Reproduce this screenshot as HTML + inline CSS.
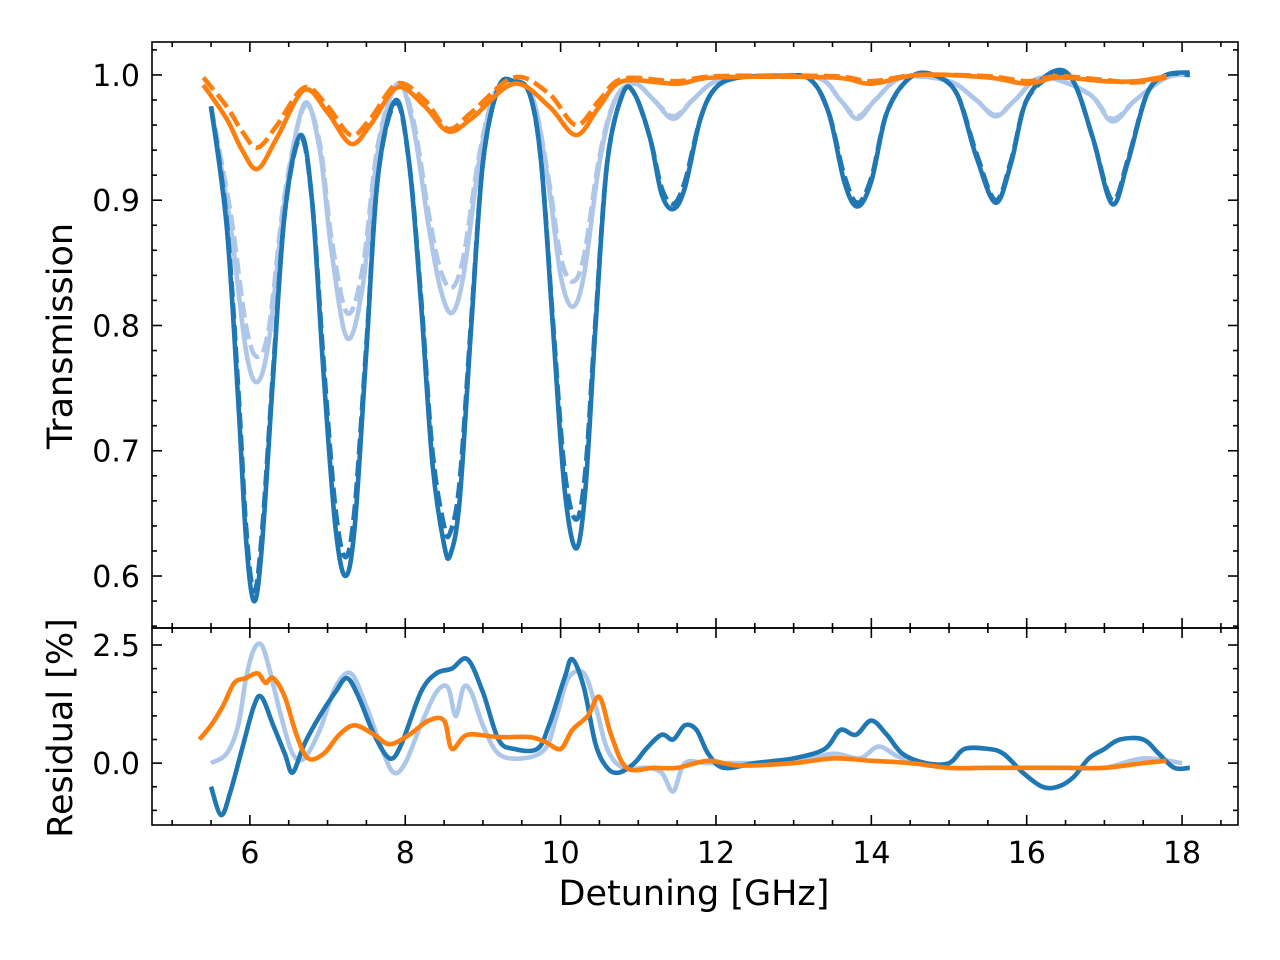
<!DOCTYPE html>
<html><head><meta charset="utf-8">
<style>
body{margin:0;background:#fff;}
svg{display:block;font-family:"DejaVu Sans","Liberation Sans",sans-serif;}
</style></head>
<body>
<svg id="chart" width="1280" height="960" viewBox="0 0 1280 960">
<defs><clipPath id="cT"><rect x="152" y="42" width="1086" height="586"/></clipPath></defs>
<g id="plotTop"></g>
<g id="plotBot"></g>
<g id="axes"></g>
</svg>
<script>
// ---- data ----
const darkX = [5.5,5.7,5.85,5.95,6.05,6.15,6.3,6.45,6.65,6.8,6.95,7.1,7.23,7.35,7.5,7.65,7.88,8.05,8.2,8.35,8.5,8.58,8.7,8.85,9.0,9.2,9.4,9.6,9.75,9.9,10.05,10.2,10.32,10.45,10.6,10.8,10.95,11.15,11.3,11.45,11.6,11.8,12.0,12.3,12.8,13.2,13.45,13.65,13.82,14.0,14.2,14.5,14.8,15.1,15.35,15.6,15.8,16.0,16.35,16.6,16.85,17.1,17.3,17.55,17.8,18.1];
const darkSolid = [0.975,0.88,0.74,0.63,0.58,0.62,0.76,0.89,0.952,0.90,0.76,0.64,0.60,0.64,0.78,0.92,0.98,0.93,0.82,0.69,0.625,0.617,0.66,0.80,0.93,0.99,0.995,0.985,0.93,0.80,0.67,0.622,0.67,0.80,0.93,0.985,0.985,0.95,0.905,0.893,0.91,0.965,0.99,0.998,0.999,0.997,0.97,0.915,0.895,0.915,0.97,0.998,1.0,0.985,0.935,0.898,0.93,0.98,1.003,0.995,0.95,0.897,0.93,0.985,1.0,1.002];
const darkDashed = [0.975,0.885,0.75,0.64,0.588,0.63,0.765,0.89,0.95,0.90,0.77,0.655,0.615,0.655,0.785,0.92,0.978,0.93,0.825,0.70,0.64,0.635,0.675,0.805,0.93,0.99,0.995,0.985,0.93,0.805,0.685,0.645,0.685,0.805,0.93,0.985,0.985,0.95,0.91,0.897,0.915,0.965,0.99,0.998,0.999,0.997,0.97,0.92,0.898,0.918,0.97,0.998,1.0,0.985,0.938,0.9,0.932,0.98,1.0,0.995,0.95,0.9,0.932,0.985,1.0,1.0];
const lightX = [5.5,5.75,5.95,6.1,6.25,6.45,6.7,6.9,7.05,7.25,7.45,7.65,7.9,8.1,8.3,8.45,8.6,8.75,8.95,9.15,9.4,9.65,9.85,10.0,10.15,10.3,10.5,10.7,10.95,11.2,11.45,11.7,12.0,12.5,13.3,13.6,13.82,14.05,14.4,15.0,15.35,15.6,15.85,16.2,16.8,17.1,17.4,17.8,18.1];
const lightSolid = [0.975,0.88,0.78,0.755,0.79,0.90,0.977,0.94,0.86,0.79,0.83,0.94,0.993,0.96,0.88,0.83,0.81,0.84,0.93,0.985,0.995,0.98,0.91,0.84,0.815,0.84,0.93,0.98,0.993,0.98,0.965,0.98,0.995,0.999,0.998,0.98,0.965,0.98,0.998,0.995,0.98,0.967,0.98,0.998,0.985,0.963,0.98,0.998,1.0];
const lightDashed = [0.975,0.89,0.80,0.775,0.80,0.905,0.975,0.945,0.87,0.81,0.845,0.945,0.993,0.965,0.89,0.845,0.83,0.855,0.935,0.985,0.995,0.98,0.915,0.855,0.835,0.855,0.935,0.98,0.993,0.98,0.967,0.98,0.995,0.999,0.998,0.98,0.967,0.98,0.998,0.995,0.98,0.968,0.98,0.998,0.985,0.965,0.98,0.998,1.0];
const orX = [5.4,5.7,5.9,6.1,6.35,6.7,7.0,7.3,7.55,7.9,8.25,8.55,8.85,9.4,9.85,10.2,10.5,10.8,11.5,12.0,13.5,14.0,14.6,15.5,16.0,16.4,17.0,17.4,17.8];
const orSolid = [0.992,0.965,0.94,0.925,0.95,0.988,0.97,0.945,0.96,0.99,0.975,0.955,0.965,0.993,0.975,0.952,0.975,0.995,0.993,0.998,0.998,0.993,1.0,0.998,0.993,0.998,0.995,0.995,0.999];
const orDashed = [0.998,0.975,0.955,0.942,0.96,0.99,0.975,0.952,0.965,0.993,0.98,0.957,0.97,0.998,0.985,0.96,0.98,0.997,0.995,0.999,0.999,0.995,1.0,0.999,0.995,0.999,0.996,0.994,0.998];
const resDarkX = [5.5,5.63,5.75,5.9,6.05,6.15,6.3,6.45,6.55,6.7,6.9,7.1,7.25,7.4,7.6,7.8,7.95,8.2,8.4,8.6,8.8,9.0,9.2,9.4,9.7,9.85,10.05,10.15,10.3,10.45,10.6,10.75,10.95,11.1,11.3,11.45,11.6,11.75,11.9,12.1,12.5,13.0,13.4,13.6,13.8,14.0,14.2,14.4,14.7,15.0,15.2,15.5,15.7,15.95,16.2,16.4,16.6,16.8,17.0,17.2,17.5,17.7,17.9,18.1];
const resDark = [-0.5,-1.1,-0.6,0.3,1.2,1.4,0.8,0.2,-0.2,0.4,1.0,1.5,1.8,1.4,0.6,0.1,0.4,1.5,1.9,2.0,2.2,1.5,0.5,0.3,0.3,0.8,1.8,2.2,1.6,0.4,-0.1,-0.2,0.0,0.3,0.6,0.5,0.8,0.7,0.2,-0.1,0.0,0.1,0.3,0.7,0.6,0.9,0.6,0.2,0.0,0.0,0.3,0.3,0.2,-0.2,-0.5,-0.5,-0.3,0.1,0.3,0.5,0.5,0.2,-0.1,-0.1];
const resLightX = [5.5,5.7,5.85,5.95,6.05,6.15,6.25,6.4,6.55,6.7,6.9,7.1,7.3,7.5,7.7,7.85,8.0,8.2,8.4,8.55,8.65,8.75,8.85,9.0,9.2,9.5,9.8,9.95,10.1,10.3,10.45,10.6,10.8,11.1,11.3,11.45,11.6,11.9,12.5,13.0,13.5,13.85,14.1,14.4,15.0,15.5,16.0,16.5,17.0,17.5,18.0];
const resLight = [0.0,0.2,0.8,1.8,2.4,2.5,2.0,1.0,0.2,0.1,0.7,1.6,1.9,1.2,0.3,-0.2,0.0,0.8,1.5,1.6,1.0,1.6,1.5,0.8,0.2,0.1,0.3,1.0,1.8,1.9,1.2,0.3,-0.1,-0.1,-0.2,-0.6,0.0,0.0,0.0,0.0,0.2,0.1,0.35,0.1,-0.1,-0.1,-0.1,-0.1,-0.1,0.1,0.0];
const resOrX = [5.35,5.5,5.65,5.8,5.95,6.1,6.2,6.3,6.45,6.6,6.75,6.95,7.15,7.35,7.6,7.8,8.05,8.3,8.5,8.6,8.8,9.2,9.6,9.8,10.0,10.15,10.35,10.5,10.65,10.85,11.2,11.5,11.9,12.3,13.0,13.5,14.0,14.5,15.0,15.5,16.0,16.5,17.0,17.5,17.8];
const resOr = [0.5,0.8,1.2,1.7,1.8,1.9,1.7,1.8,1.4,0.6,0.1,0.2,0.6,0.8,0.6,0.4,0.6,0.9,0.9,0.3,0.6,0.55,0.55,0.45,0.3,0.7,1.0,1.4,0.6,-0.1,-0.1,-0.1,0.05,-0.05,0.0,0.1,0.05,0.0,-0.1,-0.1,-0.1,-0.1,-0.1,0.0,0.05];
const xTicks = [6,8,10,12,14,16,18];
const topTicks = [0.6,0.7,0.8,0.9,1.0];
const botTicks = [0.0,2.5];

// ---- scales ----
const L=152,R=1238,T=42,M=628,B=825;
const xMin=4.74,xMax=18.72;
const sx=v=>L+(v-xMin)/(xMax-xMin)*(R-L);
const syT=v=>T+(1.0263-v)/(1.0263-0.5585)*(M-T);
const syB=v=>M+(2.86-v)/(2.86+1.31)*(B-M);
const NS='http://www.w3.org/2000/svg';
function mk(tag,attrs,parent){const e=document.createElementNS(NS,tag);for(const k in attrs)e.setAttribute(k,attrs[k]);parent.appendChild(e);return e;}
function spline(xs,ys,fx,fy){
  const p=xs.map((x,i)=>[fx(x),fy(ys[i])]);
  let d='M'+p[0][0].toFixed(1)+','+p[0][1].toFixed(1);
  for(let i=0;i<p.length-1;i++){
    const p0=p[Math.max(0,i-1)],p1=p[i],p2=p[i+1],p3=p[Math.min(p.length-1,i+2)];
    const c1=[p1[0]+(p2[0]-p0[0])/6,p1[1]+(p2[1]-p0[1])/6];
    const c2=[p2[0]-(p3[0]-p1[0])/6,p2[1]-(p3[1]-p1[1])/6];
    d+='C'+c1[0].toFixed(1)+','+c1[1].toFixed(1)+' '+c2[0].toFixed(1)+','+c2[1].toFixed(1)+' '+p2[0].toFixed(1)+','+p2[1].toFixed(1);
  }
  return d;
}
const gTop=document.getElementById('plotTop'),gBot=document.getElementById('plotBot'),gAx=document.getElementById('axes');
const series=[
 [darkX,darkSolid,'#1f77b4',null,'dark-measured-line'],
 [darkX,darkDashed,'#1f77b4','16 6','dark-model-line'],
 [lightX,lightSolid,'#aec7e8',null,'light-measured-line'],
 [lightX,lightDashed,'#aec7e8','16 6','light-model-line'],
 [orX,orSolid,'#ff7f0e',null,'orange-measured-line'],
 [orX,orDashed,'#ff7f0e','16 6','orange-model-line']];
for(const s of [series[2],series[3],series[0],series[1],series[4],series[5]]){
  const p=mk('path',{d:spline(s[0],s[1],sx,syT),fill:'none',stroke:s[2],'stroke-width':4.6,'stroke-linejoin':'round','clip-path':'url(#cT)'},gTop);
  if(s[3])p.setAttribute('stroke-dasharray',s[3]);
  
  
}
const rs=[[resLightX,resLight,'#aec7e8','light-residual-line'],[resDarkX,resDark,'#1f77b4','dark-residual-line'],[resOrX,resOr,'#ff7f0e','orange-residual-line']];
for(const s of rs){
  const p=mk('path',{d:spline(s[0],s[1],sx,syB),fill:'none',stroke:s[2],'stroke-width':4.6,'stroke-linejoin':'round'},gBot);
  
  
}
for(const [y0,y1,n] of [[T,M,'top-frame'],[M,B,'bottom-frame']]){
  const r=mk('rect',{x:L,y:y0,width:R-L,height:y1-y0,fill:'none',stroke:'#000','stroke-width':1.6},gAx);
  
  
}
function tick(x1,y1,x2,y2){mk('line',{x1:x1,y1:y1,x2:x2,y2:y2,stroke:'#000','stroke-width':1.6},gAx);}
for(let v=5;v<=18.5;v+=0.5){
  const x=sx(v),maj=xTicks.includes(v),l=maj?10:5;
  for(const [y0,y1] of [[T,M],[M,B]]){tick(x,y0,x,y0+l);tick(x,y1,x,y1-l);}
}
for(const v of xTicks){
  const t=mk('text',{x:sx(v),y:863,'font-size':30,'text-anchor':'middle'},gAx);t.textContent=v;
  
  
}
for(let i=28;i<=51;i++){const v=i/50;const y=syT(v);if(y<T||y>M)continue;const maj=topTicks.some(t=>Math.abs(t-v)<1e-6);const l=maj?10:5;tick(L,y,L+l,y);tick(R,y,R-l,y);}
for(const v of topTicks){
  const t=mk('text',{x:140,y:syT(v)+11,'font-size':30,'text-anchor':'end'},gAx);t.textContent=v.toFixed(1);
  
  
}
for(let v=-1.0;v<=2.51;v+=0.5){const y=syB(v);const maj=botTicks.some(t=>Math.abs(t-v)<1e-6);const l=maj?10:5;tick(L,y,L+l,y);tick(R,y,R-l,y);}
for(const v of botTicks){
  const t=mk('text',{x:140,y:syB(v)+11,'font-size':30,'text-anchor':'end'},gAx);t.textContent=v.toFixed(1);
  
  
}
const xl=mk('text',{x:694,y:905,'font-size':35,'text-anchor':'middle'},gAx);xl.textContent='Detuning [GHz]';


const yl=mk('text',{x:0,y:0,'font-size':35,'text-anchor':'middle',transform:'translate(72,336) rotate(-90)'},gAx);yl.textContent='Transmission';


const yl2=mk('text',{x:0,y:0,'font-size':35,'text-anchor':'middle',transform:'translate(72,728) rotate(-90)'},gAx);yl2.textContent='Residual [%]';


</script>
</body></html>
